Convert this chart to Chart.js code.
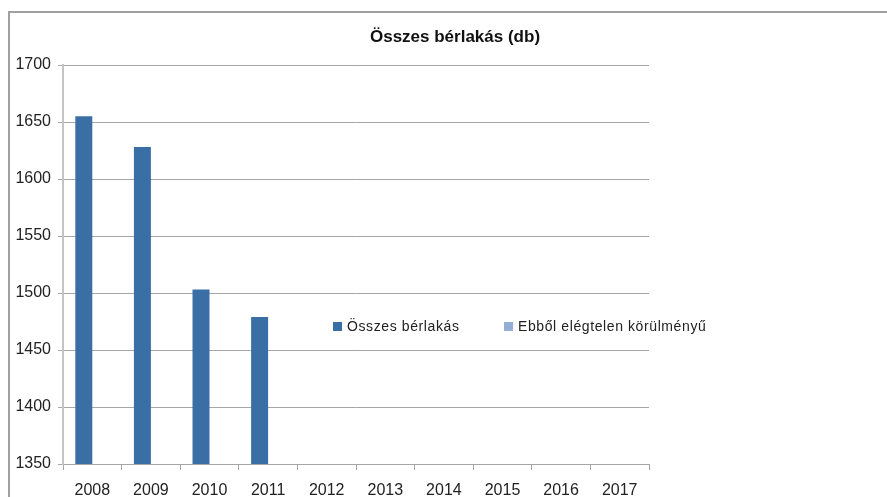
<!DOCTYPE html>
<html>
<head>
<meta charset="utf-8">
<script src="https://cdn.jsdelivr.net/npm/chart.js@4.4.0/dist/chart.umd.min.js"></script>
<style>
  html, body { margin: 0; padding: 0; background: #fff; }
  #wrap { width: 887px; height: 497px; position: relative; }
</style>
</head>
<body>
<div id="wrap"><canvas id="chart" width="887" height="497"></canvas></div>
<script>
// Data
const years = ['2008', '2009', '2010', '2011', '2012', '2013', '2014', '2015', '2016', '2017'];
const totalRentals = [1655, 1628, 1503, 1479, null, null, null, null, null, null];
const poorCondition = [null, null, null, null, null, null, null, null, null, null];
const seriesNames = ['Összes bérlakás', 'Ebből elégtelen körülményű'];
const chartTitle = 'Összes bérlakás (db)';

const FONT = '"Liberation Sans", "DejaVu Sans", sans-serif';

// Outer frame, title and the legend that sits inside the plot
const decorations = {
  id: 'decorations',
  beforeDraw(chart) {
    const ctx = chart.ctx;
    ctx.save();
    ctx.fillStyle = '#fff';
    ctx.fillRect(0, 0, chart.width, chart.height);
    ctx.strokeStyle = '#a0a0a0';
    ctx.lineWidth = 2;
    ctx.strokeRect(9, 12, chart.width + 20, chart.height + 20);
    ctx.restore();
  },
  afterDraw(chart) {
    const ctx = chart.ctx;
    ctx.save();
    ctx.fillStyle = '#111';
    ctx.font = `bold 17px ${FONT}`;
    ctx.textAlign = 'center';
    ctx.textBaseline = 'middle';
    ctx.fillText(chartTitle, 455, 37);

    // legend
    ctx.font = `14px ${FONT}`;
    ctx.textAlign = 'left';
    ctx.letterSpacing = '0.6px';
    const starts = [333, 504];
    chart.data.datasets.forEach((ds, i) => {
      const x = starts[i];
      ctx.fillStyle = ds.backgroundColor;
      ctx.fillRect(x, 322, 9, 9);
      ctx.fillStyle = '#222';
      ctx.fillText(ds.label, x + 14, 327);
    });
    ctx.restore();
  }
};

new Chart(document.getElementById('chart').getContext('2d'), {
  type: 'bar',
  data: {
    labels: years,
    datasets: [
      { label: seriesNames[0], data: totalRentals, backgroundColor: '#3a6fa6', borderWidth: 0 },
      { label: seriesNames[1], data: poorCondition, backgroundColor: '#94afd6', borderWidth: 0 }
    ]
  },
  options: {
    responsive: false,
    animation: false,
    layout: { padding: { left: 0, right: 238, top: 65, bottom: 0 } },
    datasets: { bar: { barPercentage: 1.0, categoryPercentage: 0.58 } },
    scales: {
      x: {
        grid: { display: true, drawOnChartArea: false, color: '#a6a6a6', tickLength: 6 },
        border: { display: true, color: '#a6a6a6', width: 1 },
        ticks: { color: '#222', font: { family: FONT, size: 16 }, padding: 11, maxRotation: 0 },
        afterFit(scale) { scale.height = 33; }
      },
      y: {
        min: 1350,
        max: 1700,
        ticks: {
          stepSize: 50,
          color: '#222',
          font: { family: FONT, size: 16 },
          padding: 7,
          callback: (v) => String(v)
        },
        grid: { color: '#a6a6a6', tickLength: 5 },
        border: { display: true, color: '#c4c4c4', width: 2 },
        afterFit(scale) { scale.width = 63; }
      }
    },
    plugins: {
      legend: { display: false },
      title: { display: false },
      tooltip: { enabled: false }
    }
  },
  plugins: [decorations]
});
</script>
</body>
</html>
